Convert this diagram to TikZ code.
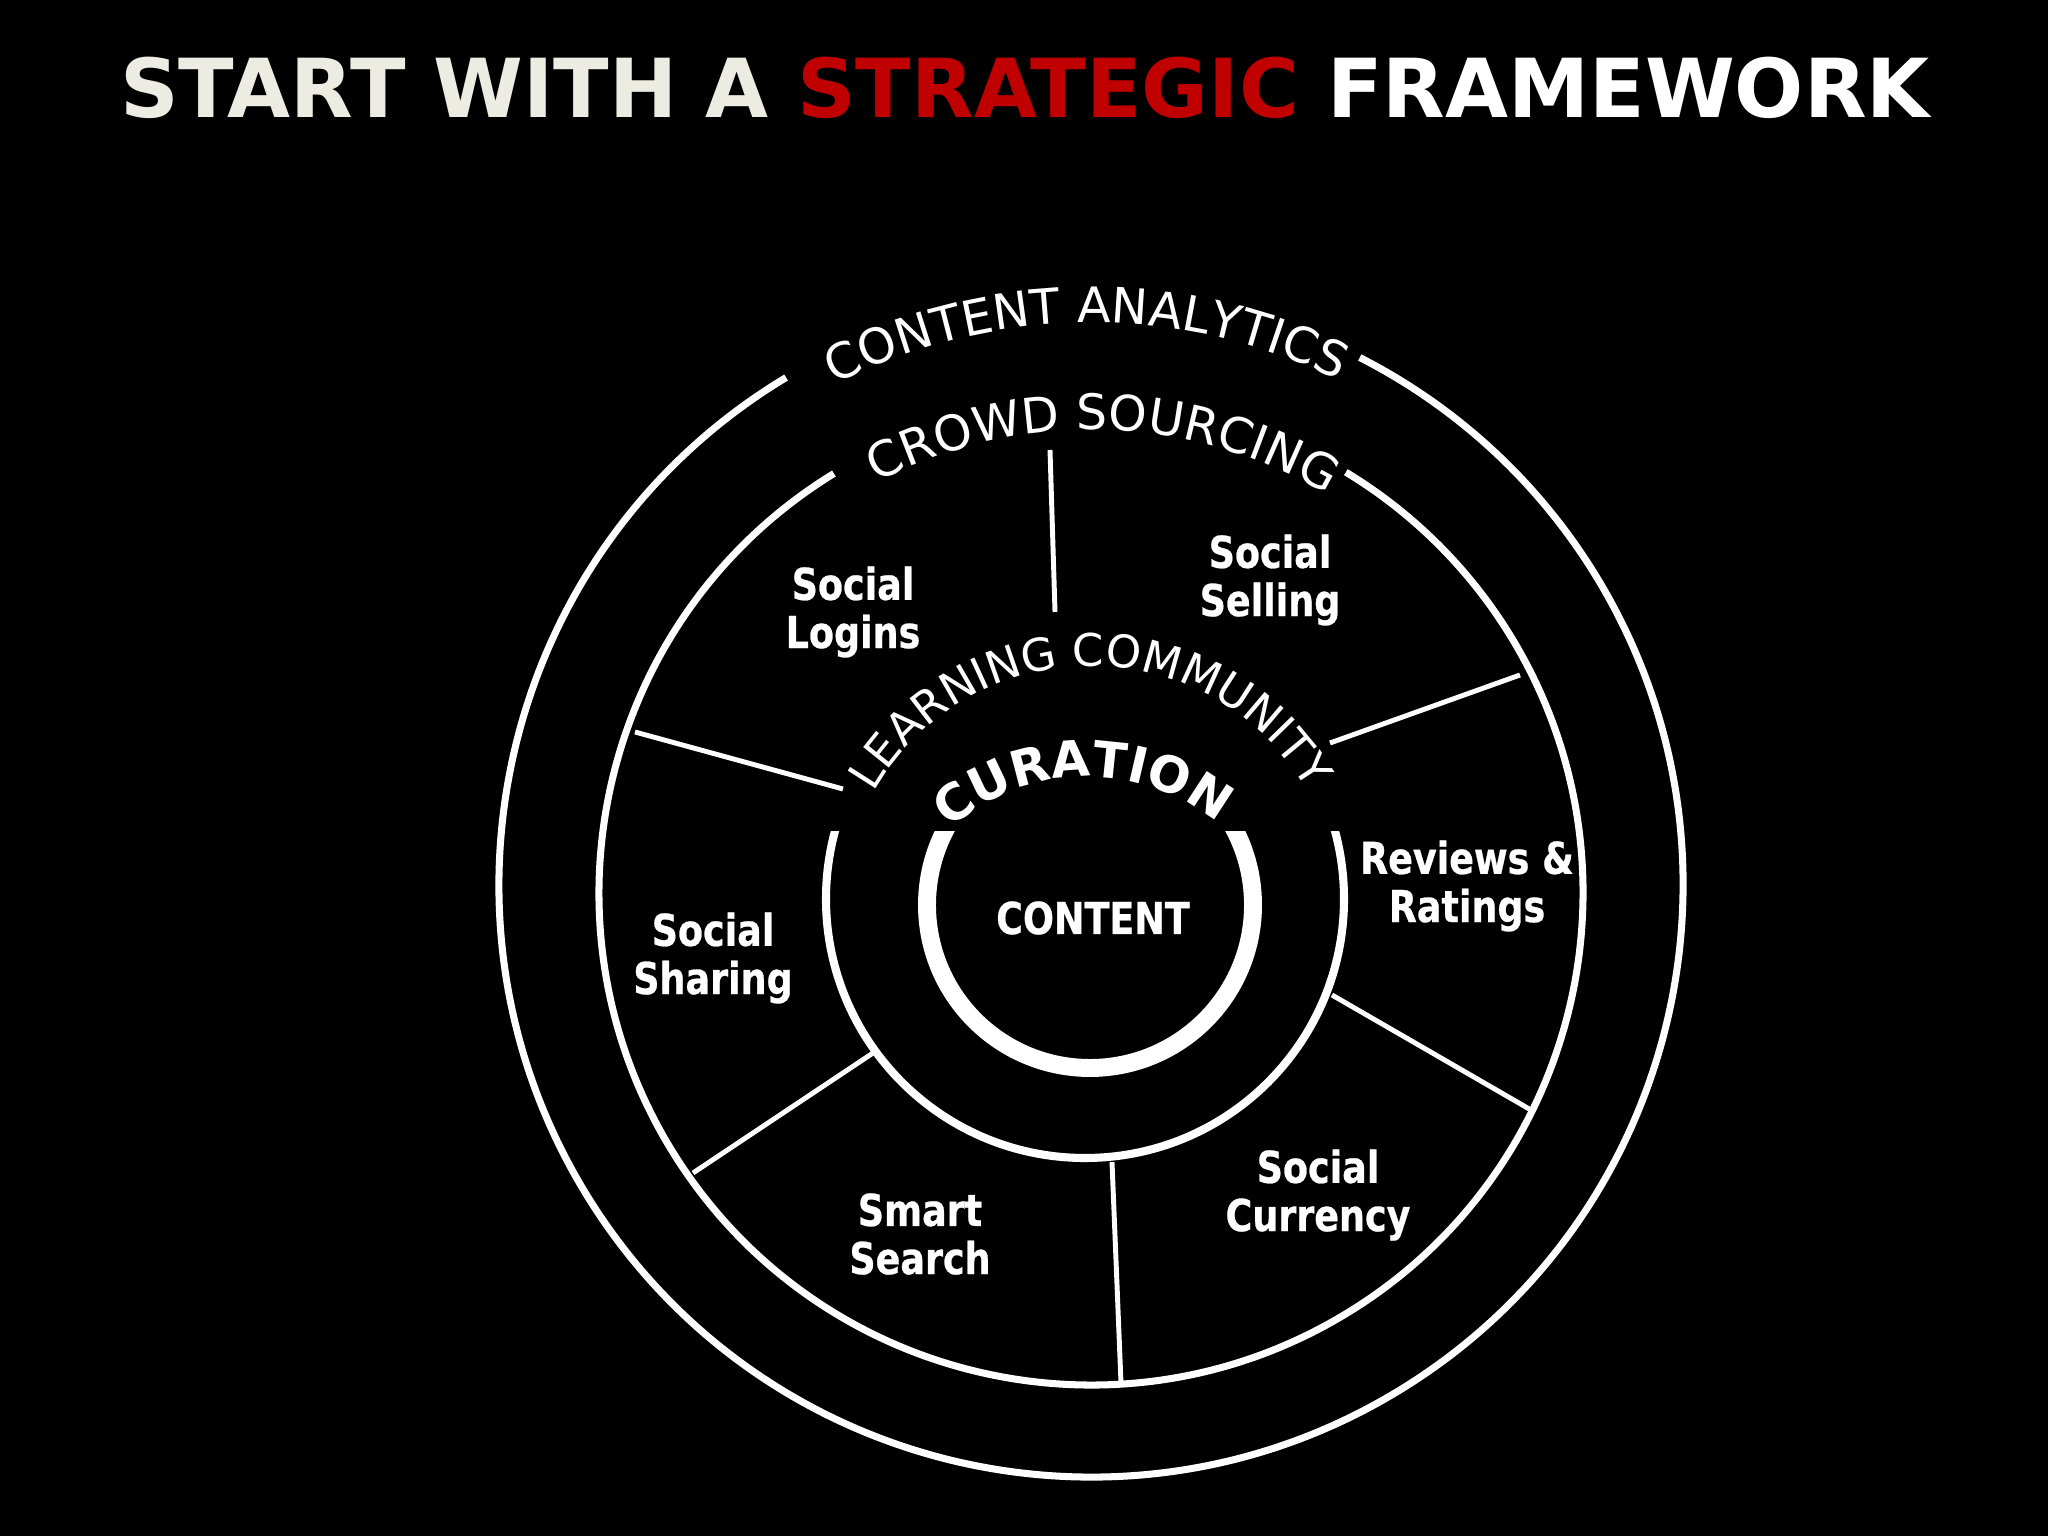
\documentclass[tikz,border=0pt]{standalone}
\usepackage{fontspec}
\setmainfont{DejaVu Sans}
\newfontfamily\labelfont{DejaVu Sans}[FakeStretch=0.83,FakeBold=0.6]
\usetikzlibrary{decorations.text}
\definecolor{cream}{RGB}{236,236,226}
\definecolor{stratred}{RGB}{192,0,0}
\newcommand\arcfontA{\color{white}\fontsize{13.9pt}{16pt}\selectfont}
\newcommand\arcfontB{\color{white}\fontsize{12.8pt}{15pt}\selectfont}
\newcommand\arcfontC{\color{white}\bfseries\fontsize{14.2pt}{16pt}\selectfont}
\begin{document}
\begin{tikzpicture}[x=0.01cm,y=0.01cm,
  ring/.style={draw=white, line width=2pt},
  spoke/.style={draw=white, line width=1.4pt},
  lbl/.style={text=white, align=center, inner sep=0pt,
    font=\labelfont\bfseries\fontsize{12.5pt}{13.7pt}\selectfont},
  arctext/.style={decorate, decoration={text along path, text align=center, text={#1}}},
]
\fill[black] (0,0) rectangle (2048,1536);
\useasboundingbox (0,0) rectangle (2048,1536);

% title
\node[anchor=base, inner sep=0pt, font=\bfseries\fontsize{23.15pt}{26pt}\selectfont] (title) at (1025,1418)
  {\textcolor{cream}{START WITH A} \textcolor{stratred}{STRATEGIC} \textcolor{white}{FRAMEWORK}};

% centres
\coordinate (O1) at (1091,651);
\coordinate (O2) at (1091,643);
\coordinate (O3) at (1085,637);
\coordinate (O4) at (1090,631);
\coordinate (TL) at (1091,620);
\coordinate (TC) at (1087,551);

% rings
\draw[ring] ([shift={(121:592)}]O1) arc[start angle=121, end angle=423, radius=592];
\draw[ring] ([shift={(121.5:492)}]O2) arc[start angle=121.5, end angle=418.8, radius=492];
\begin{scope}
  \clip (0,0) rectangle (2048,704);
  \draw[white, line width=2.3pt] (O3) circle[radius=259];
  \draw[white, line width=5.1pt] (O4) circle[radius=163];
\end{scope}

% spokes
\coordinate (s1a) at (1050,1086); \coordinate (s1b) at (1055,924);
\coordinate (s2a) at (1330,793);  \coordinate (s2b) at (1520,861);
\coordinate (s3a) at (1332,541);  \coordinate (s3b) at (1531,426);
\coordinate (s4a) at (1112,374);  \coordinate (s4b) at (1121,153);
\coordinate (s5a) at (873,483);   \coordinate (s5b) at (693,363);
\coordinate (s6a) at (843,747);   \coordinate (s6b) at (635,804);
\draw[spoke] (s1a) -- (s1b);
\draw[spoke] (s2a) -- (s2b);
\draw[spoke] (s3a) -- (s3b);
\draw[spoke] (s4a) -- (s4b);
\draw[spoke] (s5a) -- (s5b);
\draw[spoke] (s6a) -- (s6b);

% curved texts
\path[arctext={|\arcfontA|CONTENT ANALYTICS}]
  ([shift={(150.5:562)}]O1) arc[start angle=150.5, end angle=30.5, radius=562];
\path[arctext={|\arcfontA|CROWD SOURCING}]
  ([shift={(148.45:463)}]O2) arc[start angle=148.45, end angle=28.45, radius=463];
\path[arctext={|\arcfontB|LEARNING COMMUNITY}]
  ([shift={(170.25:250)}]TL) arc[start angle=170.25, end angle=10.25, radius=250];
\path[arctext={|\arcfontC|CURATION}]
  ([shift={(151.2:208)}]TC) arc[start angle=151.2, end angle=31.2, radius=208];

% labels
\node[lbl] (content) at (1093,618) {CONTENT};
\node[lbl] (logins)  at (853,924)  {Social\\Logins};
\node[lbl] (selling) at (1270,956) {Social\\Selling};
\node[lbl] (reviews) at (1467,650) {Reviews \&\\Ratings};
\node[lbl] (sharing) at (713,578)  {Social\\Sharing};
\node[lbl] (search)  at (920,302)  {Smart\\Search};
\node[lbl] (currency) at (1318,341) {Social\\Currency};
\end{tikzpicture}
\end{document}
